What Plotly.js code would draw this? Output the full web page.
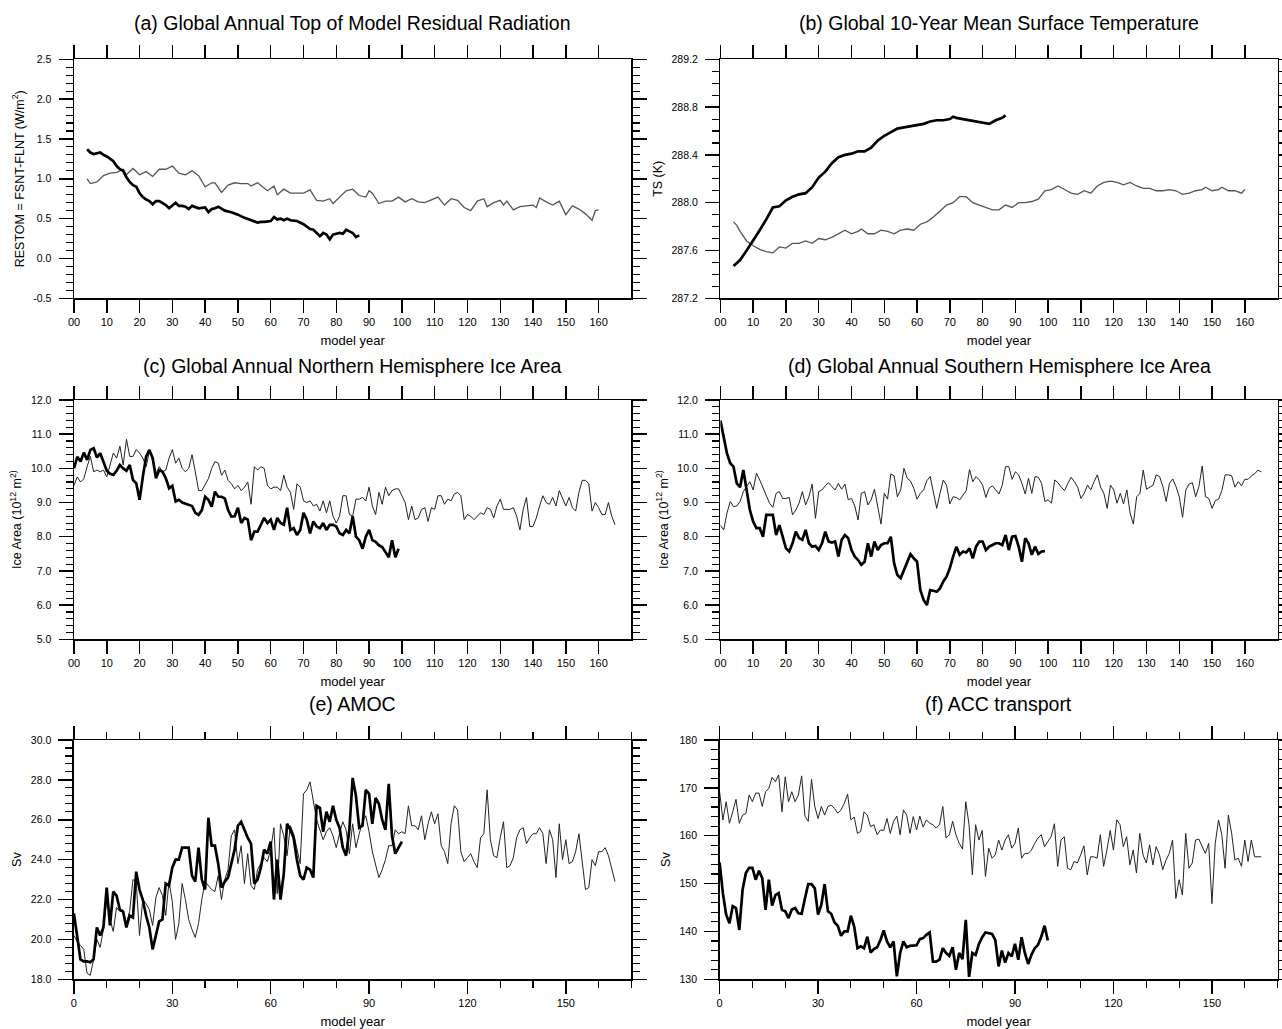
<!DOCTYPE html>
<html><head><meta charset="utf-8">
<script src="https://cdn.plot.ly/plotly-3.0.1.min.js"></script>
<style>html,body{margin:0;padding:0;background:#fff}#chart{width:1282px;height:1029px}</style>
</head><body><div id="chart"></div>
<script>
// ---------- DATA ----------
// (a) Global Annual Top of Model Residual Radiation (W/m2)
const aThinYears = [4,5,7,9,11,13,15,16,18,20,22,24,26,28,30,32,34,36,38,40,42,43,45,47,49,51,53,54,56,58,59,61,62,64,66,68,70,72,74,76,78,79,81,83,85,87,89,90,91,93,95,97,99,101,103,105,107,109,111,113,115,117,119,121,123,125,126,128,130,131,132,134,136,138,140,141,142,144,146,148,150,152,154,156,158,159,160];
const aThinVals = [1.0,0.94,0.96,1.04,1.07,1.08,1.12,1.05,1.13,1.05,1.09,1.03,1.12,1.12,1.16,1.07,1.05,1.10,1.04,0.90,0.95,0.95,0.83,0.92,0.95,0.94,0.94,0.91,0.95,0.89,0.85,0.91,0.80,0.87,0.82,0.82,0.82,0.86,0.73,0.72,0.75,0.69,0.77,0.85,0.87,0.79,0.77,0.85,0.82,0.69,0.72,0.72,0.77,0.71,0.75,0.71,0.70,0.74,0.77,0.67,0.75,0.73,0.64,0.60,0.72,0.75,0.65,0.70,0.73,0.67,0.72,0.61,0.65,0.66,0.67,0.64,0.76,0.71,0.67,0.72,0.55,0.66,0.62,0.56,0.48,0.60,0.61];
const aThickYears = [4,5,6,8,9,10,12,13,14,15,16,17,18,19,20,21,22,23,24,25,26,27,28,29,30,31,32,33,34,35,36,37,38,40,41,42,43,44,45,46,48,50,52,54,56,57,58,60,61,62,63,64,65,66,68,70,71,72,73,74,75,76,77,78,79,80,81,82,83,84,85,86,87];
const aThickVals = [1.37,1.33,1.31,1.33,1.30,1.28,1.22,1.16,1.12,1.10,1.02,0.96,0.92,0.90,0.82,0.77,0.74,0.72,0.68,0.72,0.72,0.70,0.67,0.63,0.66,0.70,0.66,0.66,0.65,0.62,0.66,0.64,0.63,0.64,0.58,0.62,0.63,0.65,0.63,0.60,0.58,0.55,0.51,0.48,0.45,0.46,0.46,0.47,0.52,0.49,0.50,0.48,0.50,0.48,0.47,0.43,0.40,0.37,0.36,0.32,0.28,0.32,0.30,0.24,0.30,0.31,0.32,0.31,0.36,0.34,0.32,0.27,0.29];

// (b) Global 10-Year Mean Surface Temperature (K)
const bThinYears = [4,5,6,8,10,12,14,16,18,20,22,24,26,28,30,32,34,36,38,40,42,43,45,47,49,51,53,55,57,59,61,63,65,67,69,71,73,75,77,79,81,83,85,87,89,91,93,95,97,99,101,103,105,107,109,111,113,115,117,119,121,123,125,127,129,131,133,135,137,139,141,143,145,147,148,150,152,153,155,157,159,160];
const bThinVals = [287.84,287.81,287.76,287.68,287.64,287.61,287.59,287.58,287.63,287.62,287.66,287.66,287.68,287.66,287.70,287.69,287.71,287.74,287.77,287.74,287.76,287.78,287.74,287.74,287.77,287.76,287.74,287.77,287.78,287.77,287.82,287.84,287.88,287.93,287.98,288.00,288.05,288.05,288.00,287.98,287.96,287.94,287.94,287.98,287.96,288.00,288.00,288.01,288.03,288.10,288.11,288.14,288.11,288.08,288.07,288.10,288.08,288.14,288.17,288.18,288.17,288.15,288.17,288.14,288.12,288.12,288.10,288.10,288.11,288.10,288.07,288.08,288.10,288.11,288.13,288.10,288.11,288.13,288.10,288.10,288.08,288.11];
const bThickYears = [4,6,8,10,12,14,16,18,20,22,24,26,28,30,32,34,36,38,40,42,44,46,48,50,52,54,56,58,60,62,64,66,68,70,71,72,74,76,78,80,82,84,86,87];
const bThickVals = [287.47,287.52,287.60,287.68,287.77,287.86,287.96,287.97,288.02,288.05,288.07,288.08,288.13,288.21,288.26,288.33,288.38,288.40,288.41,288.43,288.43,288.46,288.52,288.56,288.59,288.62,288.63,288.64,288.65,288.66,288.68,288.69,288.69,288.70,288.72,288.71,288.70,288.69,288.68,288.67,288.66,288.69,288.71,288.73];

// (c) Northern Hemisphere ice area (10^12 m2), annual from year 0
const cThinVals = [9.5,9.75,9.6,9.7,10.05,10.35,9.9,9.95,9.9,9.95,
 9.75,10.1,10.45,10.3,10.65,10.1,10.85,10.35,10.35,10.55,
 10.45,10.3,10.05,10.5,10.25,9.85,10.05,9.9,9.95,10.3,
 10.55,10.15,10.3,10.0,9.9,10.0,10.4,9.9,9.35,9.35,
 9.55,9.7,10.0,10.2,10.15,9.8,9.95,9.65,9.55,9.4,
 9.5,9.35,9.45,9.6,8.95,10.05,9.95,10.05,10.0,9.5,
 9.4,9.45,9.45,9.35,9.8,9.45,9.3,8.8,9.55,9.45,
 9.05,9.0,9.05,8.9,8.95,8.75,9.05,8.7,9.05,8.6,
 8.4,8.6,9.2,9.2,8.65,8.6,9.1,9.1,9.15,9.05,
 9.45,8.9,8.65,9.3,8.95,9.45,9.2,9.35,9.4,9.4,
 9.2,9.0,8.5,8.9,8.5,8.55,8.8,8.85,8.45,8.85,
 8.8,9.2,9.2,8.95,9.1,9.05,9.25,9.3,9.2,8.5,
 8.65,8.6,8.5,8.6,8.7,8.65,8.85,8.8,8.55,8.9,
 9.1,8.8,8.8,8.8,8.85,8.6,8.2,8.8,9.15,8.3,
 8.3,8.55,8.9,9.2,9.0,8.95,9.15,8.9,9.35,9.1,
 8.9,9.15,8.85,8.75,9.3,9.65,9.65,9.55,8.75,9.0,
 8.85,8.65,8.65,9.0,8.6,8.35];
const cThickVals = [10.0,10.34,10.2,10.46,10.25,10.54,10.59,10.32,10.44,10.2,
 9.93,9.84,9.81,9.93,10.1,10.0,9.93,10.1,9.66,9.56,
 9.08,9.76,10.34,10.54,10.3,9.71,9.95,9.9,9.71,9.42,
 9.49,9.03,9.08,9.0,8.96,8.93,8.90,8.7,8.64,8.78,
 9.17,9.08,8.88,9.32,9.17,9.17,9.12,8.78,8.59,8.6,
 8.85,8.4,8.55,8.5,7.9,8.15,8.15,8.35,8.55,8.4,
 8.5,8.2,8.55,8.4,8.35,8.85,8.2,8.25,8.05,8.2,
 8.7,8.5,8.1,8.45,8.3,8.25,8.4,8.2,8.35,8.35,
 8.3,8.1,8.05,8.2,8.1,8.6,8.0,7.9,7.65,8.0,
 8.2,7.9,7.85,7.75,7.7,7.55,7.4,7.9,7.4,7.65];

// (d) Southern Hemisphere ice area (10^12 m2), annual from year 0
const dThinVals = [8.34,8.20,8.69,9.03,8.88,8.90,9.03,9.32,9.47,9.61,
 9.37,9.86,9.66,9.42,9.17,8.98,8.86,9.27,9.32,9.12,
 9.12,9.15,8.64,8.78,8.98,9.32,8.93,9.17,9.54,8.54,
 9.32,9.37,9.49,9.58,9.47,9.37,9.56,9.39,9.54,9.08,
 9.12,8.90,8.49,9.27,9.32,8.93,9.08,9.39,8.88,8.37,
 9.27,9.10,9.84,9.78,9.17,9.37,10.00,9.71,9.63,9.42,
 9.10,9.27,9.37,9.64,9.76,9.32,8.83,9.27,9.66,9.51,
 8.96,9.17,9.15,9.08,9.22,9.35,9.97,9.61,9.76,9.66,
 9.51,9.15,9.42,9.49,9.37,9.25,9.51,10.05,10.05,9.68,
 9.90,9.81,9.56,9.25,9.71,9.27,9.76,9.74,9.56,9.03,
 9.08,8.98,9.66,9.58,9.45,9.35,9.56,9.74,9.61,9.45,
 9.12,9.27,9.51,9.37,9.61,9.81,9.45,9.27,8.83,9.51,
 9.37,8.98,9.27,8.96,9.37,8.69,8.37,9.17,9.27,9.95,
 9.39,9.45,9.51,9.81,9.76,9.47,9.03,9.56,9.69,9.47,
 9.17,8.57,9.37,9.54,9.58,9.17,9.47,10.07,9.17,9.12,
 8.83,9.06,9.10,9.35,9.81,9.81,9.78,9.45,9.61,9.49,
 9.68,9.68,9.78,9.84,9.95,9.90];
const dThickVals = [11.40,10.93,10.44,10.15,10.05,9.56,9.45,9.95,9.32,8.78,
 8.44,8.25,8.25,8.00,8.64,8.64,8.64,8.05,8.34,8.00,
 7.66,7.57,7.81,8.15,7.96,7.91,8.20,7.81,7.71,7.73,
 7.61,7.81,8.15,7.86,7.83,7.86,7.42,7.91,8.05,7.96,
 7.61,7.42,7.32,7.18,7.27,7.81,7.42,7.86,7.61,7.76,
 7.81,7.81,8.00,7.22,6.88,6.79,7.03,7.27,7.49,7.37,
 7.27,6.44,6.15,6.00,6.44,6.42,6.39,6.49,6.69,6.83,
 7.08,7.42,7.71,7.47,7.57,7.54,7.66,7.37,7.71,7.86,
 7.86,7.61,7.71,7.76,7.81,7.81,7.76,8.05,7.61,8.00,
 8.02,7.71,7.27,7.96,7.81,7.47,7.71,7.50,7.57,7.58];

// (e) AMOC (Sv), annual from year 0
const eThinVals = [20.2,19.9,19.7,19.5,18.3,18.2,19.0,20.0,19.6,20.5,
 22.0,21.0,20.4,21.6,21.4,21.4,20.8,21.4,23.0,22.9,
 20.2,22.0,21.8,21.5,20.7,22.1,22.6,22.2,21.2,22.9,
 21.9,20.0,20.8,22.8,22.0,21.0,20.5,20.1,20.8,22.0,
 22.9,22.7,22.5,22.4,23.2,22.0,23.0,23.5,25.2,25.5,
 23.8,24.7,22.8,24.3,22.7,22.5,23.5,23.8,24.1,23.9,
 24.5,25.6,22.3,25.8,25.2,24.2,25.7,25.3,24.6,23.8,
 27.3,27.5,27.9,27.0,26.0,25.5,25.0,25.4,25.6,25.2,
 24.6,25.3,25.9,25.5,24.3,25.8,24.6,25.3,25.9,26.2,
 25.4,24.4,23.7,23.1,23.5,24.0,24.7,24.7,25.5,25.3,
 25.4,25.3,26.7,25.7,25.7,25.5,26.2,25.0,25.8,26.4,
 25.8,26.3,24.7,24.4,23.8,25.8,26.7,26.5,24.4,23.9,
 24.1,24.3,23.9,23.6,25.1,25.3,27.5,25.0,24.2,24.1,
 25.1,25.9,23.6,23.7,24.1,25.1,25.5,25.6,24.8,25.1,
 25.3,25.3,25.6,25.3,23.8,25.5,25.0,23.1,25.8,24.0,
 25.0,23.8,23.9,24.4,25.3,24.0,22.5,22.6,24.0,23.7,
 24.4,24.4,24.6,24.2,23.6,22.9];
const eThickVals = [21.3,20.1,19.0,18.9,18.9,18.85,19.0,20.6,20.2,20.6,
 22.6,20.7,22.4,22.2,21.5,21.4,20.6,21.2,21.1,23.4,
 22.5,22.0,21.2,20.6,19.5,20.2,20.9,21.0,22.8,22.7,
 23.6,24.0,24.0,24.6,24.6,24.6,23.2,22.9,24.6,23.0,
 22.5,26.1,24.7,24.7,23.8,22.6,22.9,23.1,23.8,24.5,
 25.7,25.9,25.5,25.1,24.8,22.8,23.0,23.6,24.5,24.3,
 24.9,22.0,24.0,22.0,23.3,25.8,25.5,25.1,24.0,23.2,
 23.0,23.6,23.5,23.1,26.7,26.6,25.4,26.4,25.9,26.7,
 26.0,25.6,24.6,24.2,25.5,28.1,27.2,25.6,25.7,27.5,
 27.3,25.8,27.1,26.8,26.0,25.5,27.8,25.2,24.3,24.6,
 24.9];

// (f) ACC transport (Sv), annual from year 0
const fThinVals = [169.2,163.3,167.1,162.6,165.0,167.6,162.6,164.3,164.6,168.5,
 167.1,168.9,168.9,166.1,169.2,169.9,172.2,171.3,172.7,165.0,
 172.3,167.1,169.2,167.1,168.5,172.5,164.1,163.0,171.8,166.1,
 163.6,166.1,164.3,166.1,166.4,165.7,164.7,165.4,166.8,168.7,
 163.3,163.9,160.5,160.9,165.0,164.3,161.9,162.3,160.2,161.2,
 161.1,163.6,160.5,163.0,164.1,160.2,165.4,164.3,160.5,164.0,
 161.2,164.1,161.8,163.3,162.6,162.3,161.6,162.3,166.1,159.5,
 160.2,163.0,160.2,158.4,157.2,167.1,162.3,151.8,162.3,159.1,
 161.1,151.5,157.4,155.3,156.0,159.1,157.0,159.1,160.2,157.4,
 158.4,161.6,155.3,156.3,156.3,157.0,158.4,159.5,160.2,157.7,
 158.8,159.8,162.5,153.6,159.1,159.8,153.2,152.9,154.6,154.3,
 156.0,157.9,151.8,155.6,155.6,155.3,160.2,153.6,157.0,161.1,
 157.0,163.3,162.3,157.7,159.8,153.9,157.0,152.2,160.5,156.0,
 154.3,158.1,153.9,157.7,156.0,152.9,154.9,156.3,159.1,146.9,
 150.8,147.6,160.5,153.2,154.3,159.1,159.3,157.9,156.3,158.4,
 145.8,158.4,163.3,160.2,153.2,164.3,160.5,154.9,155.3,153.6,
 159.1,154.6,159.1,155.6,155.6,155.6];
const fThickVals = [154.4,148.0,143.5,141.7,145.3,144.9,140.3,148.7,152.2,153.3,
 153.3,150.8,152.7,151.1,144.5,150.8,145.4,147.6,148.0,144.5,
 144.2,142.8,144.6,144.9,143.8,143.7,146.9,149.9,149.9,149.0,
 143.5,145.6,149.9,144.2,143.7,141.9,141.2,139.1,140.0,140.0,
 143.3,141.0,136.5,136.9,136.5,138.9,135.6,136.3,136.7,138.2,
 140.2,137.9,136.7,137.9,130.6,135.5,137.9,136.7,137.0,137.1,
 137.1,138.4,138.6,139.3,139.8,133.7,133.7,134.1,136.5,135.5,
 134.9,136.7,132.0,135.5,134.2,142.4,130.5,135.5,135.1,137.4,
 138.8,139.8,139.6,139.5,138.2,132.7,136.0,133.5,135.5,134.8,
 137.4,134.1,138.8,135.5,133.2,135.1,136.5,137.2,138.9,141.2,
 138.1];

// tick labels
const yearTicks10 = [0,10,20,30,40,50,60,70,80,90,100,110,120,130,140,150,160];
const yearLabels10 = ["00","10","20","30","40","50","60","70","80","90","100","110","120","130","140","150","160"];
const yearTicks30 = [0,30,60,90,120,150];
const yearLabels30 = ["0","30","60","90","120","150"];
const aYTicks = [-0.5,0,0.5,1,1.5,2,2.5];
const aYLabels = ["-0.5","0.0","0.5","1.0","1.5","2.0","2.5"];
const bYTicks = [287.2,287.6,288.0,288.4,288.8,289.2];
const bYLabels = ["287.2","287.6","288.0","288.4","288.8","289.2"];
const iceYTicks = [5,6,7,8,9,10,11,12];
const iceYLabels = ["5.0","6.0","7.0","8.0","9.0","10.0","11.0","12.0"];
const eYTicks = [18,20,22,24,26,28,30];
const eYLabels = ["18.0","20.0","22.0","24.0","26.0","28.0","30.0"];
const fYTicks = [130,140,150,160,170,180];
const fYLabels = ["130","140","150","160","170","180"];

const titles = [
 "(a) Global Annual Top of Model Residual Radiation",
 "(b) Global 10-Year Mean Surface Temperature",
 "(c) Global Annual Northern Hemisphere Ice Area",
 "(d) Global Annual Southern Hemisphere Ice Area",
 "(e) AMOC",
 "(f) ACC transport"
];

// ---------- LAYOUT ----------
const W = 1282, H = 1029;
const FONT = "Liberation Sans, Arial, Helvetica, sans-serif";
const idx = n => Array.from({length: n}, (_, i) => i);
function px2x(a, b) { return [a / W, b / W]; }
function px2y(top, bot) { return [1 - bot / H, 1 - top / H]; }

const panels = [
 {xd: px2x(74, 631.4), yd: px2y(59.3, 298.3)},
 {xd: px2x(720.4, 1277.6), yd: px2y(59.3, 298.3)},
 {xd: px2x(74, 631.4), yd: px2y(400, 639.3)},
 {xd: px2x(720.4, 1277.6), yd: px2y(400, 639.3)},
 {xd: px2x(73.9, 631.4), yd: px2y(740, 979.3)},
 {xd: px2x(719.6, 1277.6), yd: px2y(740, 979.3)}
];
const titleY = [23, 23, 366, 366, 704, 704];

function xAxis(p, n, tv, tt, minor) {
  const ax = {
    domain: p.xd, anchor: 'y' + (n === 1 ? '' : n), range: [0, 170],
    showline: true, linecolor: '#000', linewidth: 1.5, mirror: 'allticks',
    ticks: 'outside', ticklen: 13, tickwidth: 1.5, tickcolor: '#000',
    tickvals: tv, ticktext: tt, showgrid: false, zeroline: false,
    tickfont: {family: FONT, size: 11, color: '#000'},
    title: {text: 'model year', font: {family: FONT, size: 13, color: '#000'}, standoff: 9}
  };
  if (minor) ax.minor = {dtick: 10, tick0: 0, ticklen: 7, tickwidth: 1.2, tickcolor: '#000', ticks: 'outside', showgrid: false};
  return ax;
}
function yAxis(p, n, range, tv, tt, minorStep, title) {
  return {
    domain: p.yd, anchor: 'x' + (n === 1 ? '' : n), range: range,
    showline: true, linecolor: '#000', linewidth: 1.5, mirror: 'allticks',
    ticks: 'outside', ticklen: 14, tickwidth: 1.5, tickcolor: '#000',
    tickvals: tv, ticktext: tt, showgrid: false, zeroline: false,
    ticklabelstandoff: 5,
    tickfont: {family: FONT, size: 10.5, color: '#000'},
    minor: {dtick: minorStep, tick0: range[0], ticklen: 7, tickwidth: 1.1, tickcolor: '#000', ticks: 'outside', showgrid: false},
    title: {text: title, font: {family: FONT, size: 12.5, color: '#000'}, standoff: 6}
  };
}

const thin = {color: '#222', width: 1};
const thinGray = {color: '#555', width: 1.3};
const thick = {color: '#000', width: 2.7};
function tr(x, y, n, line) {
  return {x: x, y: y, xaxis: 'x' + (n === 1 ? '' : n), yaxis: 'y' + (n === 1 ? '' : n),
          type: 'scatter', mode: 'lines', line: line, hoverinfo: 'skip', showlegend: false};
}

const data = [
  tr(aThinYears, aThinVals, 1, thinGray), tr(aThickYears, aThickVals, 1, thick),
  tr(bThinYears, bThinVals, 2, thinGray), tr(bThickYears, bThickVals, 2, thick),
  tr(idx(cThinVals.length), cThinVals, 3, thin), tr(idx(cThickVals.length), cThickVals, 3, thick),
  tr(idx(dThinVals.length), dThinVals, 4, thin), tr(idx(dThickVals.length), dThickVals, 4, thick),
  tr(idx(eThinVals.length), eThinVals, 5, thin), tr(idx(eThickVals.length), eThickVals, 5, thick),
  tr(idx(fThinVals.length), fThinVals, 6, thin), tr(idx(fThickVals.length), fThickVals, 6, thick)
];

const iceTitle = 'Ice Area (10<sup>12</sup> m<sup>2)</sup>';
const layout = {
  width: W, height: H, margin: {l: 0, r: 0, t: 0, b: 0},
  paper_bgcolor: '#fff', plot_bgcolor: '#fff', showlegend: false,
  xaxis: xAxis(panels[0], 1, yearTicks10, yearLabels10, false),
  xaxis2: xAxis(panels[1], 2, yearTicks10, yearLabels10, false),
  xaxis3: xAxis(panels[2], 3, yearTicks10, yearLabels10, false),
  xaxis4: xAxis(panels[3], 4, yearTicks10, yearLabels10, false),
  xaxis5: xAxis(panels[4], 5, yearTicks30, yearLabels30, true),
  xaxis6: xAxis(panels[5], 6, yearTicks30, yearLabels30, true),
  yaxis: yAxis(panels[0], 1, [-0.5, 2.5], aYTicks, aYLabels, 0.1, 'RESTOM = FSNT-FLNT (W/m<sup>2</sup>)'),
  yaxis2: yAxis(panels[1], 2, [287.2, 289.2], bYTicks, bYLabels, 0.1, 'TS (K)'),
  yaxis3: yAxis(panels[2], 3, [5, 12], iceYTicks, iceYLabels, 0.2, iceTitle),
  yaxis4: yAxis(panels[3], 4, [5, 12], iceYTicks, iceYLabels, 0.2, iceTitle),
  yaxis5: yAxis(panels[4], 5, [18, 30], eYTicks, eYLabels, 0.4, 'Sv'),
  yaxis6: yAxis(panels[5], 6, [130, 180], fYTicks, fYLabels, 2, 'Sv'),
  annotations: titles.map((t, i) => ({
    text: t, xref: 'paper', yref: 'paper', showarrow: false,
    x: (panels[i].xd[0] + panels[i].xd[1]) / 2, y: 1 - titleY[i] / H,
    xanchor: 'center', yanchor: 'middle',
    font: {family: FONT, size: 19.5, color: '#000'}
  }))
};

Plotly.newPlot('chart', data, layout, {displayModeBar: false, staticPlot: true});
</script></body></html>
